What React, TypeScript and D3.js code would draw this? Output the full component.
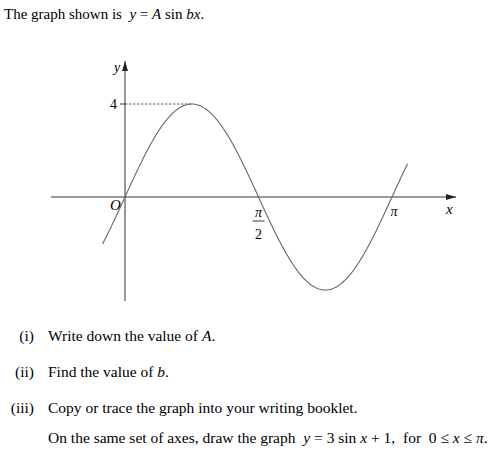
import * as d3 from 'd3';

// y = A sin bx, as drawn in the reference
const AMP = 4;
const FREQ = 2;
const X_DOMAIN = [-0.265, 3.325];
const X_TICKS = [{ v: Math.PI / 2, frac: true }, { v: Math.PI, frac: false }];
const Y_TICKS = [4];
const QUESTIONS = [
  { num: '(i)', parts: [['Write down the value of ', false], ['A', true], ['.', false]] },
  { num: '(ii)', parts: [['Find the value of ', false], ['b', true], ['.', false]] },
  { num: '(iii)', parts: [['Copy or trace the graph into your writing booklet.', false]] },
];

const W = 496, H = 462;
const OX = 125, OY = 197;
const serif = '"Liberation Serif", "Times New Roman", serif';

export default function App() {
  const x = d3.scaleLinear().domain([0, Math.PI]).range([OX, 392]);
  const y = d3.scaleLinear().domain([0, 4]).range([OY, 104]);
  const pts = d3.range(X_DOMAIN[0], X_DOMAIN[1] + 0.001, 0.01).map(t => [t, AMP * Math.sin(FREQ * t)] as [number, number]);
  const line = d3.line<[number, number]>().x(d => x(d[0])).y(d => y(d[1]));
  const peakX = x(Math.PI / (2 * FREQ));

  return (
    <svg width={W} height={H} viewBox={`0 0 ${W} ${H}`} style={{ position: 'absolute', left: 0, top: 0, background: '#fff' }}
      fontFamily={serif}>
      <defs>
        <marker id="arr" viewBox="0 0 10 6" refX="10" refY="3" markerWidth="10" markerHeight="6" orient="auto" markerUnits="userSpaceOnUse">
          <path d="M0,0 L10,3 L0,6 Z" fill="#222" />
        </marker>
      </defs>
      <text x={4} y={19} fontSize={15} fill="#000">
        The graph shown is{'\u00a0\u00a0'}<tspan fontStyle="italic">y</tspan> = <tspan fontStyle="italic">A</tspan> sin <tspan fontStyle="italic">bx</tspan>.
      </text>

      {/* axes */}
      <line x1={51} x2={456} y1={OY} y2={OY} stroke="#333" strokeWidth={1} markerEnd="url(#arr)" />
      <line x1={OX} x2={OX} y1={301} y2={61} stroke="#333" strokeWidth={1} markerEnd="url(#arr)" />

      {Y_TICKS.map(t => (
        <g key={t}>
          <line x1={OX - 5} x2={OX} y1={y(t)} y2={y(t)} stroke="#333" />
          <line x1={OX} x2={peakX} y1={y(t)} y2={y(t)} stroke="#333" strokeDasharray="2.5 1.5" strokeWidth={0.8} />
          <text x={OX - 8} y={y(t) + 5} textAnchor="end" fontSize={14}>{t}</text>
        </g>
      ))}

      <path d={line(pts) ?? ''} fill="none" stroke="#666" strokeWidth={1.1} />

      {X_TICKS.map(t => t.frac ? (
        <g key={t.v}>
          <text x={x(t.v)} y={217} textAnchor="middle" fontSize={14} fontStyle="italic">π</text>
          <line x1={x(t.v) - 6} x2={x(t.v) + 6} y1={221} y2={221} stroke="#000" strokeWidth={0.8} />
          <text x={x(t.v)} y={239} textAnchor="middle" fontSize={14}>2</text>
        </g>
      ) : (
        <text key={t.v} x={x(t.v) + 2} y={216} textAnchor="middle" fontSize={14} fontStyle="italic">π</text>
      ))}

      <text x={110} y={210} fontSize={15} fontStyle="italic">O</text>
      <text x={114} y={72} fontSize={14} fontStyle="italic">y</text>
      <text x={446} y={214} fontSize={15} fontStyle="italic">x</text>

      {QUESTIONS.map((q, i) => (
        <g key={q.num} fontSize={15.5}>
          <text x={34} y={341 + i * 36} textAnchor="end">{q.num}</text>
          <text x={48} y={341 + i * 36}>
            {q.parts.map(([s, it], j) => <tspan key={j} fontStyle={it ? 'italic' : 'normal'}>{s as string}</tspan>)}
          </text>
        </g>
      ))}
      <text x={48} y={443} fontSize={15.5}>
        On the same set of axes, draw the graph{'\u00a0\u00a0'}<tspan fontStyle="italic">y</tspan> = 3 sin <tspan fontStyle="italic">x</tspan> + 1,{'\u00a0\u00a0'}for{'\u00a0\u00a0'}0 ≤ <tspan fontStyle="italic">x</tspan> ≤ <tspan fontStyle="italic">π</tspan>.
      </text>
    </svg>
  );
}
